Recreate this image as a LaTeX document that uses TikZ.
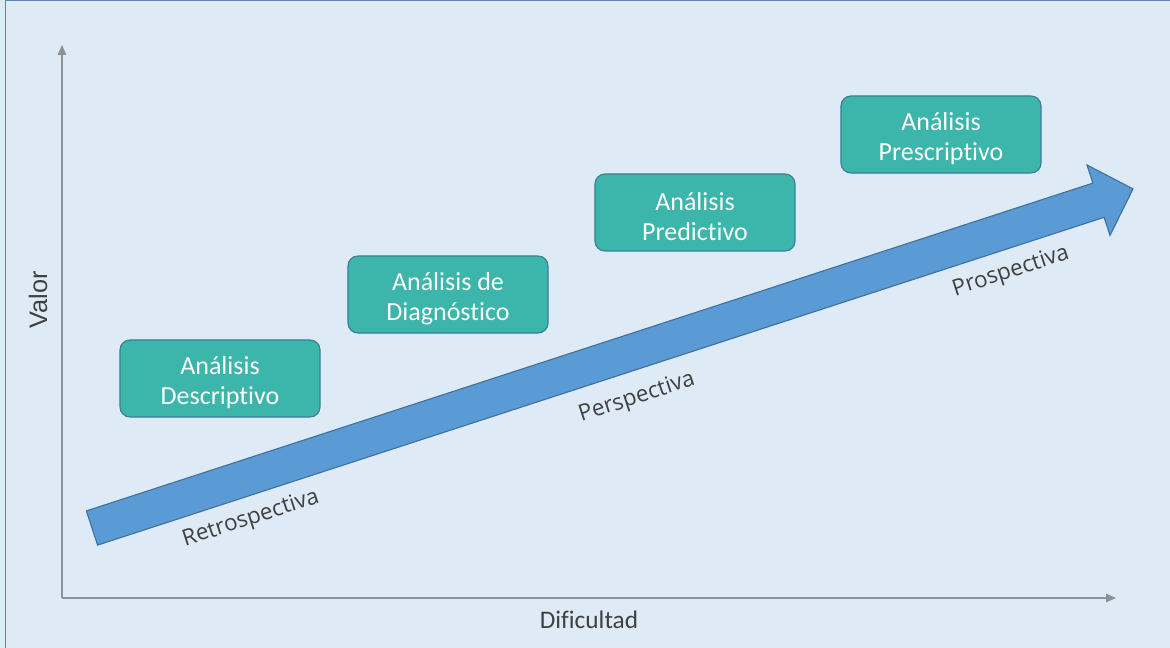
\documentclass[tikz,border=0pt]{standalone}
\usepackage{fontspec}
\setmainfont{Carlito}[Ligatures=NoCommon, Contextuals=NoAlternate, RawFeature=-clig]
\newfontfamily\labelfont{Open Sans}
\newfontfamily\axisfont{Liberation Sans}
\usetikzlibrary{arrows.meta}
\definecolor{bgblue}{HTML}{DEEAF6}
\definecolor{frameblue}{HTML}{5B86B8}
\definecolor{boxfill}{HTML}{3CB5AB}
\definecolor{boxline}{HTML}{3A7F96}
\definecolor{arrowfill}{HTML}{5B9BD5}
\definecolor{arrowline}{HTML}{41719C}
\definecolor{axisgray}{HTML}{8E9296}
\definecolor{txtgray}{HTML}{404040}
\tikzset{
  stagebox/.style={draw=boxline, line width=0.8pt, fill=boxfill, rounded corners=0.25cm,
    minimum width=5cm, minimum height=1.925cm},
  stagetext/.style={align=center, text=white, font=\fontsize{18.5}{21.5}\selectfont},
  axisline/.style={draw=axisgray, line width=0.9pt, -{Triangle[length=7pt,width=6pt]}},
  phaselabel/.style={text=txtgray, font=\labelfont\fontsize{16}{18}\selectfont, rotate=18.04},
  axislabel/.style={text=txtgray, font=\fontsize{18}{21}\selectfont}
}
\begin{document}
\begin{tikzpicture}[x=0.025cm, y=-0.025cm]
  % page background and frame
  \fill[bgblue] (0,0) rectangle (1170,648);
  \useasboundingbox (0,0) rectangle (1170,648);
  \draw[frameblue, line width=1pt] (5.5,648) -- (5.5,0.8) -- (1170,0.8);

  % axes
  \coordinate (origin) at (62,598);
  \coordinate (ytop) at (62,45);
  \coordinate (xend) at (1116,598);
  \draw[axisline] (origin) -- (ytop);
  \draw[axisline] (origin) -- (xend);
  \node[text=txtgray, font=\axisfont\fontsize{18}{21}\selectfont, rotate=90] (valor) at (38,300) {Valor};
  \node[axislabel] (dific) at (589,620) {Dificultad};

  % big progression arrow
  \coordinate (tailA) at (86.4,510.9);
  \coordinate (tailB) at (97.6,545.1);
  \coordinate (shaftB) at (1104.1,217.3);
  \coordinate (headB) at (1110.0,235.4);
  \coordinate (tip) at (1133.0,188.9);
  \coordinate (headA) at (1087.0,165.0);
  \coordinate (shaftA) at (1092.9,183.1);
  \draw[arrowline, fill=arrowfill, line width=0.8pt, line join=miter]
    (tailA) -- (tailB) -- (shaftB) -- (headB) -- (tip) -- (headA) -- (shaftA) -- cycle;

  % phase labels under the arrow
  \node[phaselabel] (retro) at (251,519) {Retrospectiva};
  \node[phaselabel] (persp) at (637,398) {Perspectiva};
  \node[phaselabel] (prosp) at (1011,272) {Prospectiva};

  % analysis stages: box first, its text set a little below centre
  \node[stagebox] (desc) at (220,378.5) {};
  \node[stagetext] (desc-t) at ([yshift=-0.11cm]desc.center) {Análisis\\Descriptivo};
  \node[stagebox] (diag) at (448,294.5) {};
  \node[stagetext] (diag-t) at ([yshift=-0.11cm]diag.center) {Análisis de\\Diagnóstico};
  \node[stagebox] (pred) at (695,212.5) {};
  \node[stagetext] (pred-t) at ([yshift=-0.11cm]pred.center) {Análisis\\Predictivo};
  \node[stagebox] (presc) at (941,134.5) {};
  \node[stagetext] (presc-t) at ([yshift=-0.11cm]presc.center) {Análisis\\Prescriptivo};
\end{tikzpicture}
\end{document}
